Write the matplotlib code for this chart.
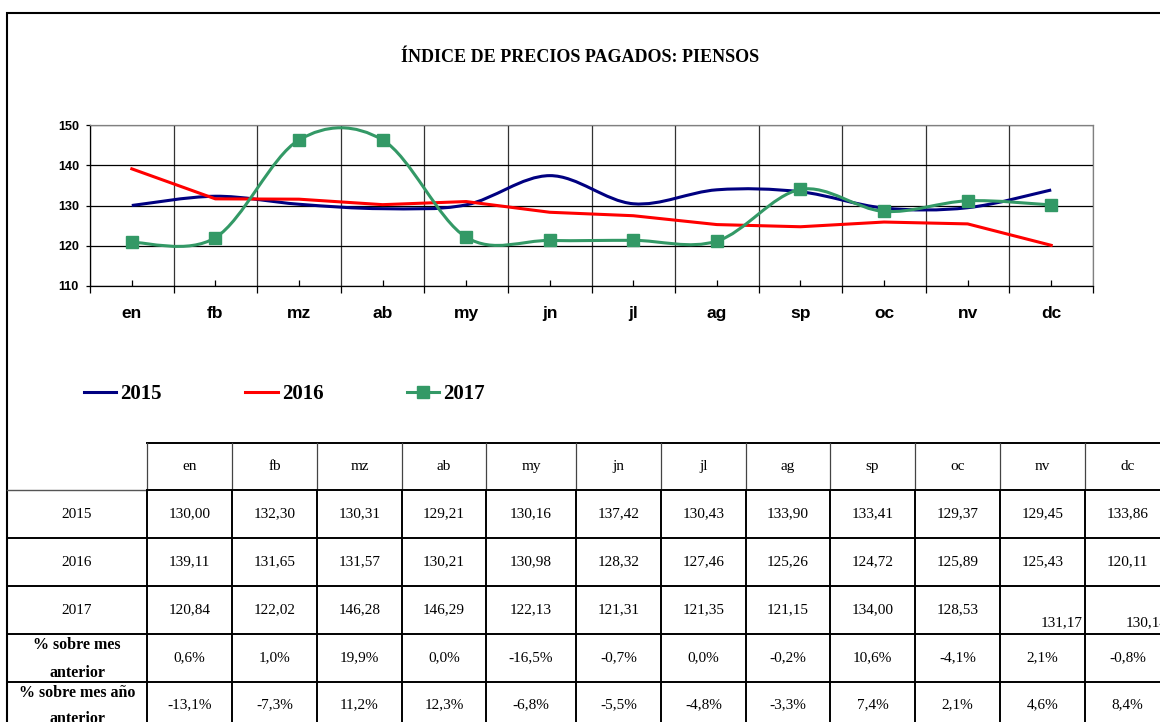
import matplotlib
matplotlib.use("Agg")
import matplotlib.pyplot as plt
from matplotlib.path import Path
from matplotlib.patches import PathPatch, Rectangle
from matplotlib.lines import Line2D
import numpy as np

W, H = 1160, 722

meses = ["en", "fb", "mz", "ab", "my", "jn", "jl", "ag", "sp", "oc", "nv", "dc"]
v2015 = [130.00, 132.30, 130.31, 129.21, 130.16, 137.42, 130.43, 133.90, 133.41, 129.37, 129.45, 133.86]
v2016 = [139.11, 131.65, 131.57, 130.21, 130.98, 128.32, 127.46, 125.26, 124.72, 125.89, 125.43, 120.11]
v2017 = [120.84, 122.02, 146.28, 146.29, 122.13, 121.31, 121.35, 121.15, 134.00, 128.53, 131.17, 130.14]
pct_mes_anterior = ["0,6%", "1,0%", "19,9%", "0,0%", "-16,5%", "-0,7%", "0,0%", "-0,2%",
                    "10,6%", "-4,1%", "2,1%", "-0,8%"]
pct_anio_anterior = ["-13,1%", "-7,3%", "11,2%", "12,3%", "-6,8%", "-5,5%", "-4,8%", "-3,3%",
                     "7,4%", "2,1%", "4,6%", "8,4%"]
years = ["2015", "2016", "2017"]
colors = {"2015": "#000080", "2016": "#FF0000", "2017": "#339966"}

SERIF = "Liberation Serif"
SANS = "Liberation Sans"


def px(x, y):
    """pixel (desde arriba-izquierda) -> fraccion de figura"""
    return x / W, 1 - y / H


def smooth_path(y):
    """curva suavizada tipo Excel (Catmull-Rom en Bezier)"""
    x = np.arange(len(y), dtype=float)
    y = np.asarray(y, float)
    xp = np.concatenate([[x[0]], x, [x[-1]]])
    yp = np.concatenate([[y[0]], y, [y[-1]]])
    verts = [(x[0], y[0])]
    codes = [Path.MOVETO]
    for i in range(len(x) - 1):
        c1 = (x[i] + (xp[i + 2] - xp[i]) / 6, y[i] + (yp[i + 2] - yp[i]) / 6)
        c2 = (x[i + 1] - (xp[i + 3] - xp[i + 1]) / 6, y[i + 1] - (yp[i + 3] - yp[i + 1]) / 6)
        verts += [c1, c2, (x[i + 1], y[i + 1])]
        codes += [Path.CURVE4] * 3
    return Path(verts, codes)


fig = plt.figure(figsize=(W / 100, H / 100), dpi=100)

# marco exterior
fig.patches.append(Rectangle(px(7, H + 20), (W + 20) / W, (H + 20 - 13) / H,
                             transform=fig.transFigure, fill=False,
                             edgecolor="black", linewidth=1.5))

fig.text(*px(580, 57), "ÍNDICE DE PRECIOS PAGADOS: PIENSOS", ha="center", va="center",
         family=SERIF, fontweight="bold", fontsize=13)

# ---- grafico ----
x0, x1, yt, yb = 90, 1093, 125, 286
ax = fig.add_axes([x0 / W, 1 - yb / H, (x1 - x0) / W, (yb - yt) / H])
ax.set_xlim(-0.5, len(meses) - 0.5)
ax.set_ylim(110, 150)
ax.set_yticks(np.arange(110, 151, 10))
ax.yaxis.grid(True, color="black", linewidth=0.9)
ax.set_xticks(np.arange(len(meses)))
ax.set_xticklabels(meses, fontfamily=SANS, fontweight="bold", fontsize=12.5)
ax.set_xticks(np.arange(len(meses) + 1) - 0.5, minor=True)
ax.xaxis.grid(True, which="minor", color="#333333", linewidth=0.9)
ax.tick_params(axis="x", which="major", direction="in", length=4, pad=14.5, width=0.9)
ax.tick_params(axis="x", which="minor", direction="out", length=5, width=0.9)
ax.tick_params(axis="y", direction="out", length=3, width=0.9, pad=5)
for lab in ax.get_yticklabels():
    lab.set_fontfamily(SANS)
    lab.set_fontweight("bold")
    lab.set_fontsize(9)
ax.set_axisbelow(True)
for s in ["top", "right"]:
    ax.spines[s].set_color("#808080")
for s in ["left", "bottom"]:
    ax.spines[s].set_color("black")
for s in ax.spines.values():
    s.set_linewidth(0.9)

lw = 2.2
ax.add_patch(PathPatch(smooth_path(v2015), facecolor="none", edgecolor=colors["2015"],
                       linewidth=lw, zorder=3, capstyle="butt"))
ax.plot(np.arange(len(meses)), v2016, color=colors["2016"], linewidth=lw, zorder=4)
ax.add_patch(PathPatch(smooth_path(v2017), facecolor="none", edgecolor=colors["2017"],
                       linewidth=lw, zorder=5))
ax.plot(np.arange(len(meses)), v2017, ls="none", marker="s", markersize=9,
        color=colors["2017"], zorder=6)

handles = [Line2D([], [], color=colors["2015"], lw=lw),
           Line2D([], [], color=colors["2016"], lw=lw),
           Line2D([], [], color=colors["2017"], lw=lw, marker="s", markersize=8)]
fig.legend(handles, years, loc="center left", bbox_to_anchor=px(84, 394), ncol=3,
           frameon=False, borderpad=0, borderaxespad=0, handlelength=1.55,
           handletextpad=0.2, columnspacing=4.0,
           prop={"family": SERIF, "weight": "bold", "size": 15})

# ---- tabla ----
cols = [7, 147, 232, 317, 402, 486, 576, 661, 746, 830, 915, 1000, 1085, 1170]
rows = [443, 490, 538, 586, 634, 682, 730]
tlw = 1.4


def hline(y, xa, xb, **kw):
    fig.add_artist(Line2D([xa / W, xb / W], [1 - y / H, 1 - y / H],
                          transform=fig.transFigure, **kw))


def vline(x, ya, yb, **kw):
    fig.add_artist(Line2D([x / W, x / W], [1 - ya / H, 1 - yb / H],
                          transform=fig.transFigure, **kw))


hline(rows[0], cols[1], W + 5, color="black", linewidth=tlw)
hline(rows[1], cols[0], cols[1], color="#555555", linewidth=1.0)
hline(rows[1], cols[1], W + 5, color="black", linewidth=tlw)
for r in rows[2:6]:
    hline(r, cols[0], W + 5, color="black", linewidth=tlw)
for c in cols[1:-1]:
    vline(c, rows[0], rows[1], color="#444444", linewidth=0.9)
    vline(c, rows[1], H + 5, color="black", linewidth=tlw)

fs = 11
centers = [(cols[i] + cols[i + 1]) / 2 for i in range(len(cols) - 1)]
rmid = [(rows[i] + rows[i + 1]) / 2 for i in range(len(rows) - 1)]


def fmt(v):
    return f"{v:.2f}".replace(".", ",")


for j, m in enumerate(meses):
    fig.text(*px(centers[j + 1], rmid[0]), m, ha="center", va="center", family=SERIF, fontsize=fs)

for i, (yr, vals) in enumerate(zip(years, [v2015, v2016, v2017])):
    yc = rmid[i + 1]
    fig.text(*px(centers[0], yc), yr, ha="center", va="center", family=SERIF, fontsize=fs)
    for j, v in enumerate(vals):
        if yr == "2017" and j >= 10:
            # en el original estas dos celdas van abajo a la derecha
            fig.text(*px(cols[j + 2] - 2, yc + 13), fmt(v), ha="right", va="center",
                     family=SERIF, fontsize=fs)
        else:
            fig.text(*px(centers[j + 1], yc), fmt(v), ha="center", va="center",
                     family=SERIF, fontsize=fs)

for j, t in enumerate(pct_mes_anterior):
    fig.text(*px(centers[j + 1], rmid[4]), t, ha="center", va="center", family=SERIF, fontsize=fs)
for j, t in enumerate(pct_anio_anterior):
    fig.text(*px(centers[j + 1], rmid[5] - 1), t, ha="center", va="center", family=SERIF, fontsize=fs)

fig.text(*px(centers[0], 645), "% sobre mes", ha="center", va="center", family=SERIF,
         fontweight="bold", fontsize=11.5)
fig.text(*px(centers[0], 673), "anterior", ha="center", va="center", family=SERIF,
         fontweight="bold", fontsize=11.5)
fig.text(*px(centers[0], 693), "% sobre mes año", ha="center", va="center", family=SERIF,
         fontweight="bold", fontsize=11.5)
fig.text(*px(centers[0], 719), "anterior", ha="center", va="center", family=SERIF,
         fontweight="bold", fontsize=11.5)

fig.savefig("out.png", dpi=100)
plt.close(fig)
